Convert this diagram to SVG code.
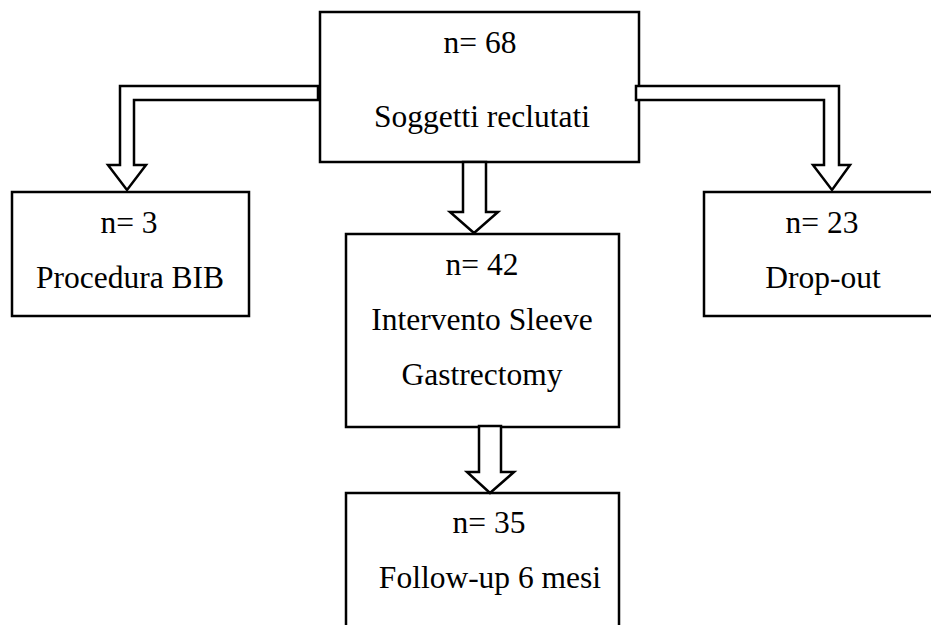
<svg xmlns="http://www.w3.org/2000/svg" width="931" height="625" viewBox="0 0 931 625">
<style>
.box{fill:#fff;stroke:#000;stroke-width:2.5}
.arr{fill:#fff;stroke:#000;stroke-width:2.5;stroke-linejoin:miter}
text{font-family:"Liberation Serif","Times New Roman",serif;font-size:31.5px;fill:#000;text-anchor:middle}
</style>
<rect width="931" height="625" fill="#fff"/>
<g id="n68">
<rect class="box" x="320" y="12" width="319" height="150"/>
<text x="480" y="53">n= 68</text>
<text x="482" y="127">Soggetti reclutati</text>
</g>
<g id="n3">
<rect class="box" x="12" y="192" width="237" height="124"/>
<text x="129" y="233">n= 3</text>
<text x="130" y="288">Procedura BIB</text>
</g>
<g id="n23">
<rect class="box" x="704" y="192" width="240" height="124"/>
<text x="822" y="233">n= 23</text>
<text x="823" y="288">Drop-out</text>
</g>
<g id="n42">
<rect class="box" x="346" y="234" width="273" height="193"/>
<text x="482" y="275">n= 42</text>
<text x="482" y="330">Intervento Sleeve</text>
<text x="482" y="385">Gastrectomy</text>
</g>
<g id="n35">
<rect class="box" x="346" y="493" width="273" height="150"/>
<text x="489" y="533">n= 35</text>
<text x="490" y="588">Follow-up 6 mesi</text>
</g>
<g id="connectors">
<polygon class="arr" points="318,86 120,86 120,165 108,165 127,190 146,165 134,165 134,100 318,100"/>
<polygon class="arr" points="636,86 839,86 839,165 850,165 832,190 813,165 824,165 824,100 636,100"/>
<polygon class="arr" points="463,162 486,162 486,212 498,212 474,233 450,212 463,212"/>
<polygon class="arr" points="479,426 501,426 501,472 514,472 490,493 467,472 479,472"/>
</g>
</svg>
